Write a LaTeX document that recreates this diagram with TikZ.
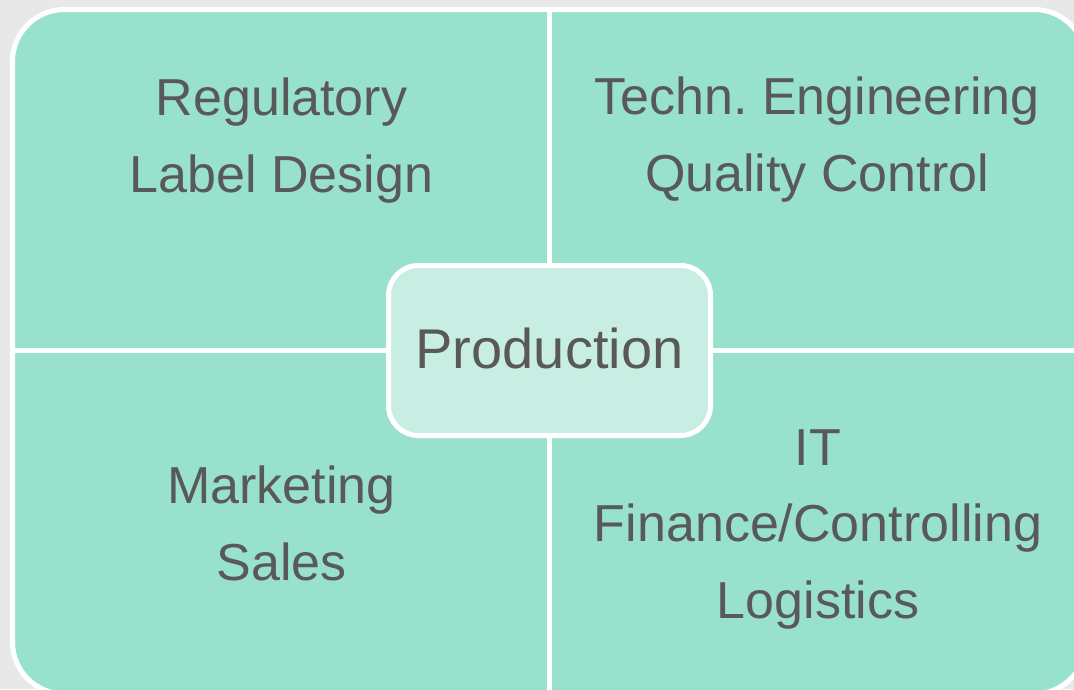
\documentclass[tikz,border=0pt]{standalone}
\usepackage{fontspec}
\setmainfont{Liberation Sans}
\definecolor{bggray}{HTML}{E8E8E8}
\definecolor{quadgreen}{HTML}{98E1CD}
\definecolor{centergreen}{HTML}{C8EDE2}
\definecolor{textgray}{HTML}{595959}

\begin{document}
\begin{tikzpicture}[x=1pt, y=-1pt,
    quadtext/.style={anchor=base, align=center, text=textgray, inner sep=0pt,
      font=\fontsize{52}{76.5}\selectfont},
    centerbox/.style={draw=white, line width=5pt, fill=centergreen, rounded corners=30pt}]
    \useasboundingbox (0,0) rectangle (1074,689);
    \fill[bggray] (0,0) rectangle (1074,689);
    \clip (0,0) rectangle (1074,689);

    % outer matrix, cut off at right and bottom
    \draw[white, line width=5pt, fill=quadgreen, rounded corners=52pt] (12.5,9.5) rectangle (1086,694);
    \draw[white, line width=4.5pt] (549.5,9.5) -- (549.5,694);
    \draw[white, line width=4.5pt] (12.5,350.5) -- (1086,350.5);

    % quadrant texts (base = last line)
    \node[quadtext] (regulatory) at (281.5,192) {Regulatory\\Label Design};
    \node[quadtext] (engineering) at (817,191) {Techn.\ Engineering\\Quality Control};
    \node[quadtext] (marketing) at (281.5,580) {Marketing\\Sales};
    \node[quadtext] (it) at (818,618) {IT\\Finance/Controlling\\Logistics};

    % centre box
    \draw[centerbox] (388.5,265.5) rectangle (710.5,435.5);
    \node[anchor=base, text=textgray, inner sep=0pt, font=\fontsize{56}{60}\selectfont]
      (production) at (549.5,368) {Production};
  \end{tikzpicture}
\end{document}
